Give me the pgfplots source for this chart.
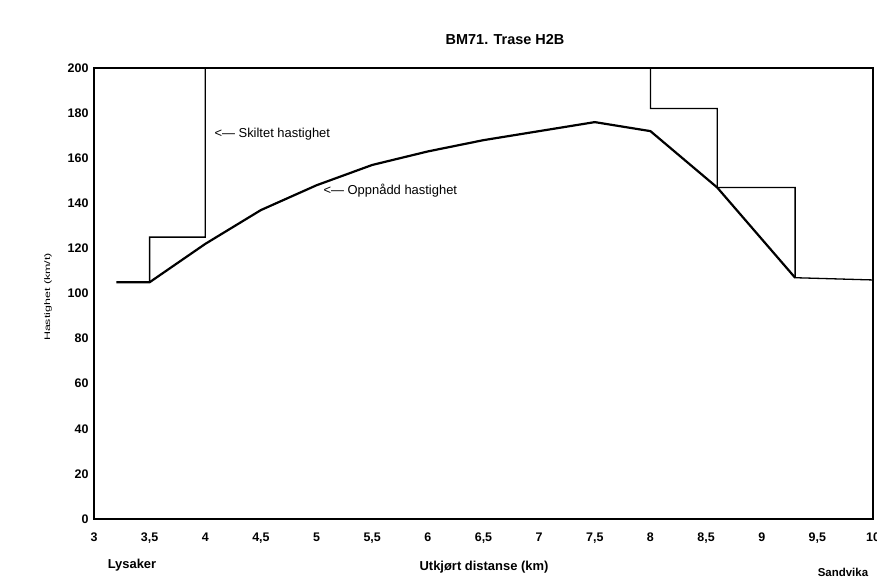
\documentclass[border=0pt]{standalone}
\usepackage{fontspec}
\setmainfont{Liberation Sans}
\usepackage{graphicx}
\usepackage{pgfplots}
\pgfplotsset{compat=1.18}
\begin{document}
\begin{tikzpicture}[x=1bp,y=1bp]
\useasboundingbox (-94,-59) rectangle (783,519);
\begin{axis}[
  at={(0,0)}, anchor=south west,
  width=779bp, height=451bp, scale only axis,
  xmin=3, xmax=10, ymin=0, ymax=200,
  axis line style={line width=1.2bp},
  xtick={3,3.5,4,4.5,5,5.5,6,6.5,7,7.5,8,8.5,9,9.5,10},
  xticklabels={3,{3,5},4,{4,5},5,{5,5},6,{6,5},7,{7,5},8,{8,5},9,{9,5},10},
  ytick={0,20,...,200},
  major tick length=0pt,
  /pgf/number format/assume math mode=true,
  tick label style={font=\fontsize{12.5}{13}\selectfont\bfseries},
  xticklabel style={yshift=-10bp},
  yticklabel style={xshift=-2bp},
  clip=false,
]
% Skiltet hastighet (signed speed)
\addplot[black, line width=1.3bp] coordinates {
 (3.5,105) (3.5,125) (4.0,125) (4.0,200) (8.0,200) (8.0,182)
 (8.6,182) (8.6,147) (9.3,147) (9.3,107) (10,106)
};
% Oppnådd hastighet (achieved speed)
\addplot[black, line width=2.2bp] coordinates {
 (3.2,105) (3.5,105) (4.0,122) (4.5,137) (5.0,148) (5.5,157)
 (6.0,163) (6.5,168) (7.0,172) (7.5,176) (8.0,172) (8.6,147) (9.3,107)
};
\end{axis}
\node[font=\fontsize{14.5}{15}\selectfont\bfseries] at (411,479) {BM71. Trase H2B};
\node[font=\fontsize{13}{14}\selectfont\bfseries] at (38,-46) {Lysaker};
\node[font=\fontsize{11.5}{12}\selectfont\bfseries] at (749,-53) {Sandvika};
\node[font=\fontsize{13}{14}\selectfont\bfseries] at (390,-48) {Utkjørt distanse (km)};
\node[rotate=90] at (-46,222) {\scalebox{1}[0.65]{\fontsize{12.5}{13}\selectfont Hastighet (km/t)}};
\node[font=\fontsize{13}{14}\selectfont, anchor=west] at (117,385) {<--- Skiltet hastighet};
\node[font=\fontsize{13}{14}\selectfont, anchor=west] at (226,328) {<--- Oppnådd hastighet};
\end{tikzpicture}
\end{document}
